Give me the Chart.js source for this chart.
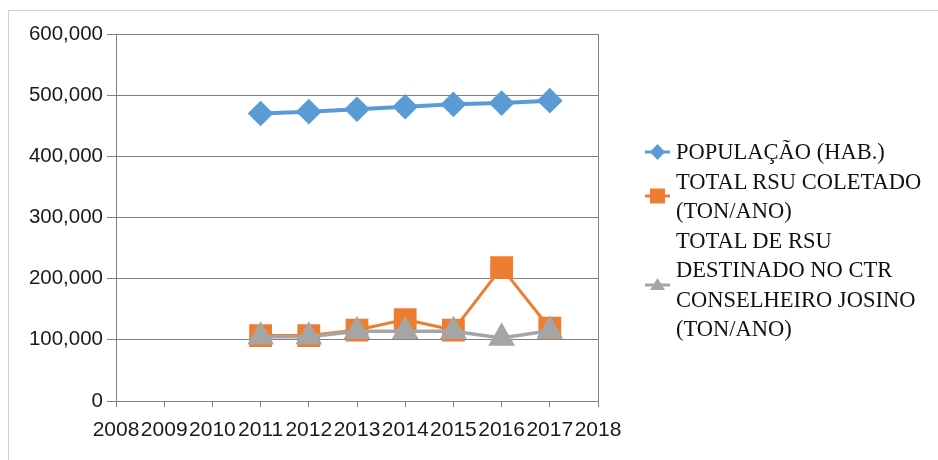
<!DOCTYPE html>
<html>
<head>
<meta charset="utf-8">
<script src="https://cdn.jsdelivr.net/npm/chart.js@4"></script>
<style>
  body { margin: 0; background: #fff; }
  #wrap { position: relative; width: 938px; height: 460px; overflow: hidden; }
  #frame { position: absolute; left: 8px; top: 10px; width: 1000px; height: 1000px;
    border-left: 1px solid #d0d0d0; border-top: 1px solid #d0d0d0; }
  #chart { position: absolute; left: 0; top: 0; }
  #legend { position: absolute; left: 645px; top: 137px;
    font-family: "Liberation Serif", "Times New Roman", serif; font-size: 22.5px;
    line-height: 29.5px; color: #111; }
  .item { display: flex; align-items: center; }
  .item svg { flex: none; margin-right: 6px; }
</style>
</head>
<body>
<div id="wrap">
  <div id="frame"></div>
  <canvas id="chart" width="938" height="460"></canvas>
  <div id="legend"></div>
</div>
<script>
const years = [2011, 2012, 2013, 2014, 2015, 2016, 2017];
const populacao = [470000, 473000, 477000, 481000, 485000, 487000, 491000];
const rsuColetado = [107000, 107000, 116000, 133000, 116000, 218000, 119000];
const rsuDestinado = [105000, 105000, 114000, 114000, 114000, 103000, 115000];

const seriesNames = [
  ["POPULAÇÃO (HAB.)"],
  ["TOTAL RSU COLETADO", "(TON/ANO)"],
  ["TOTAL DE RSU", "DESTINADO NO CTR", "CONSELHEIRO JOSINO", "(TON/ANO)"],
];
const colors = ["#5b9bd5", "#ed7d31", "#a5a5a5"];
const gridColor = "#808080";

function points(values) {
  return years.map((y, i) => ({ x: y, y: values[i] }));
}

const fontFamily = "'Liberation Sans', Arial, sans-serif";

new Chart(document.getElementById("chart").getContext("2d"), {
  type: "line",
  data: {
    datasets: [
      {
        label: seriesNames[0].join(" "),
        data: points(populacao),
        borderColor: colors[0],
        backgroundColor: colors[0],
        borderWidth: 4,
        pointStyle: "rectRot",
        pointRadius: 10,
        order: 2,
      },
      {
        label: seriesNames[1].join(" "),
        data: points(rsuColetado),
        borderColor: colors[1],
        backgroundColor: colors[1],
        borderWidth: 3,
        pointStyle: "rect",
        pointRadius: 14,
        order: 1,
      },
      {
        label: seriesNames[2].join(" "),
        data: points(rsuDestinado),
        borderColor: colors[2],
        backgroundColor: colors[2],
        borderWidth: 3.5,
        pointStyle: "triangle",
        pointRadius: 12,
        order: 0,
      },
    ],
  },
  options: {
    responsive: false,
    animation: false,
    devicePixelRatio: 1,
    layout: { padding: { left: 0, right: 340, top: 34, bottom: 0 } },
    plugins: { legend: { display: false }, tooltip: { enabled: false } },
    scales: {
      x: {
        type: "linear",
        min: 2008,
        max: 2018,
        afterFit: (scale) => { scale.height = 59; },
        ticks: {
          stepSize: 1,
          autoSkip: false,
          maxRotation: 0,
          padding: 11,
          color: "#1a1a1a",
          font: { family: fontFamily, size: 21 },
          callback: (v) => String(v),
        },
        grid: {
          color: (ctx) => (ctx.tick && ctx.tick.value === 2018 ? gridColor : "rgba(0,0,0,0)"),
          tickColor: gridColor,
          tickLength: 6,
        },
        border: { color: gridColor, width: 1 },
      },
      y: {
        min: 0,
        max: 600000,
        afterFit: (scale) => { scale.width = 116; },
        ticks: {
          stepSize: 100000,
          padding: 4,
          color: "#1a1a1a",
          font: { family: fontFamily, size: 20.5 },
          callback: (v) => v.toLocaleString("en-US"),
        },
        grid: { color: gridColor, tickColor: gridColor, tickLength: 9 },
        border: { color: gridColor, width: 1 },
      },
    },
  },
});

// legend built from the same names and colours
const markers = [
  '<polygon points="12.5,-8 20,0 12.5,8 5,0" />',
  '<rect x="5" y="-7.5" width="15" height="15" />',
  '<polygon points="12.5,-7 20,5 5,5" />',
];
const legend = document.getElementById("legend");
seriesNames.forEach((lines, i) => {
  const item = document.createElement("div");
  item.className = "item";
  item.innerHTML =
    '<svg width="25" height="20" viewBox="0 -10 25 20">' +
    '<line x1="0" y1="0" x2="25" y2="0" stroke="' + colors[i] + '" stroke-width="3"/>' +
    '<g fill="' + colors[i] + '">' + markers[i] + "</g></svg>" +
    "<div>" + lines.map((l) => "<div>" + l + "</div>").join("") + "</div>";
  legend.appendChild(item);
});
</script>
</body>
</html>
